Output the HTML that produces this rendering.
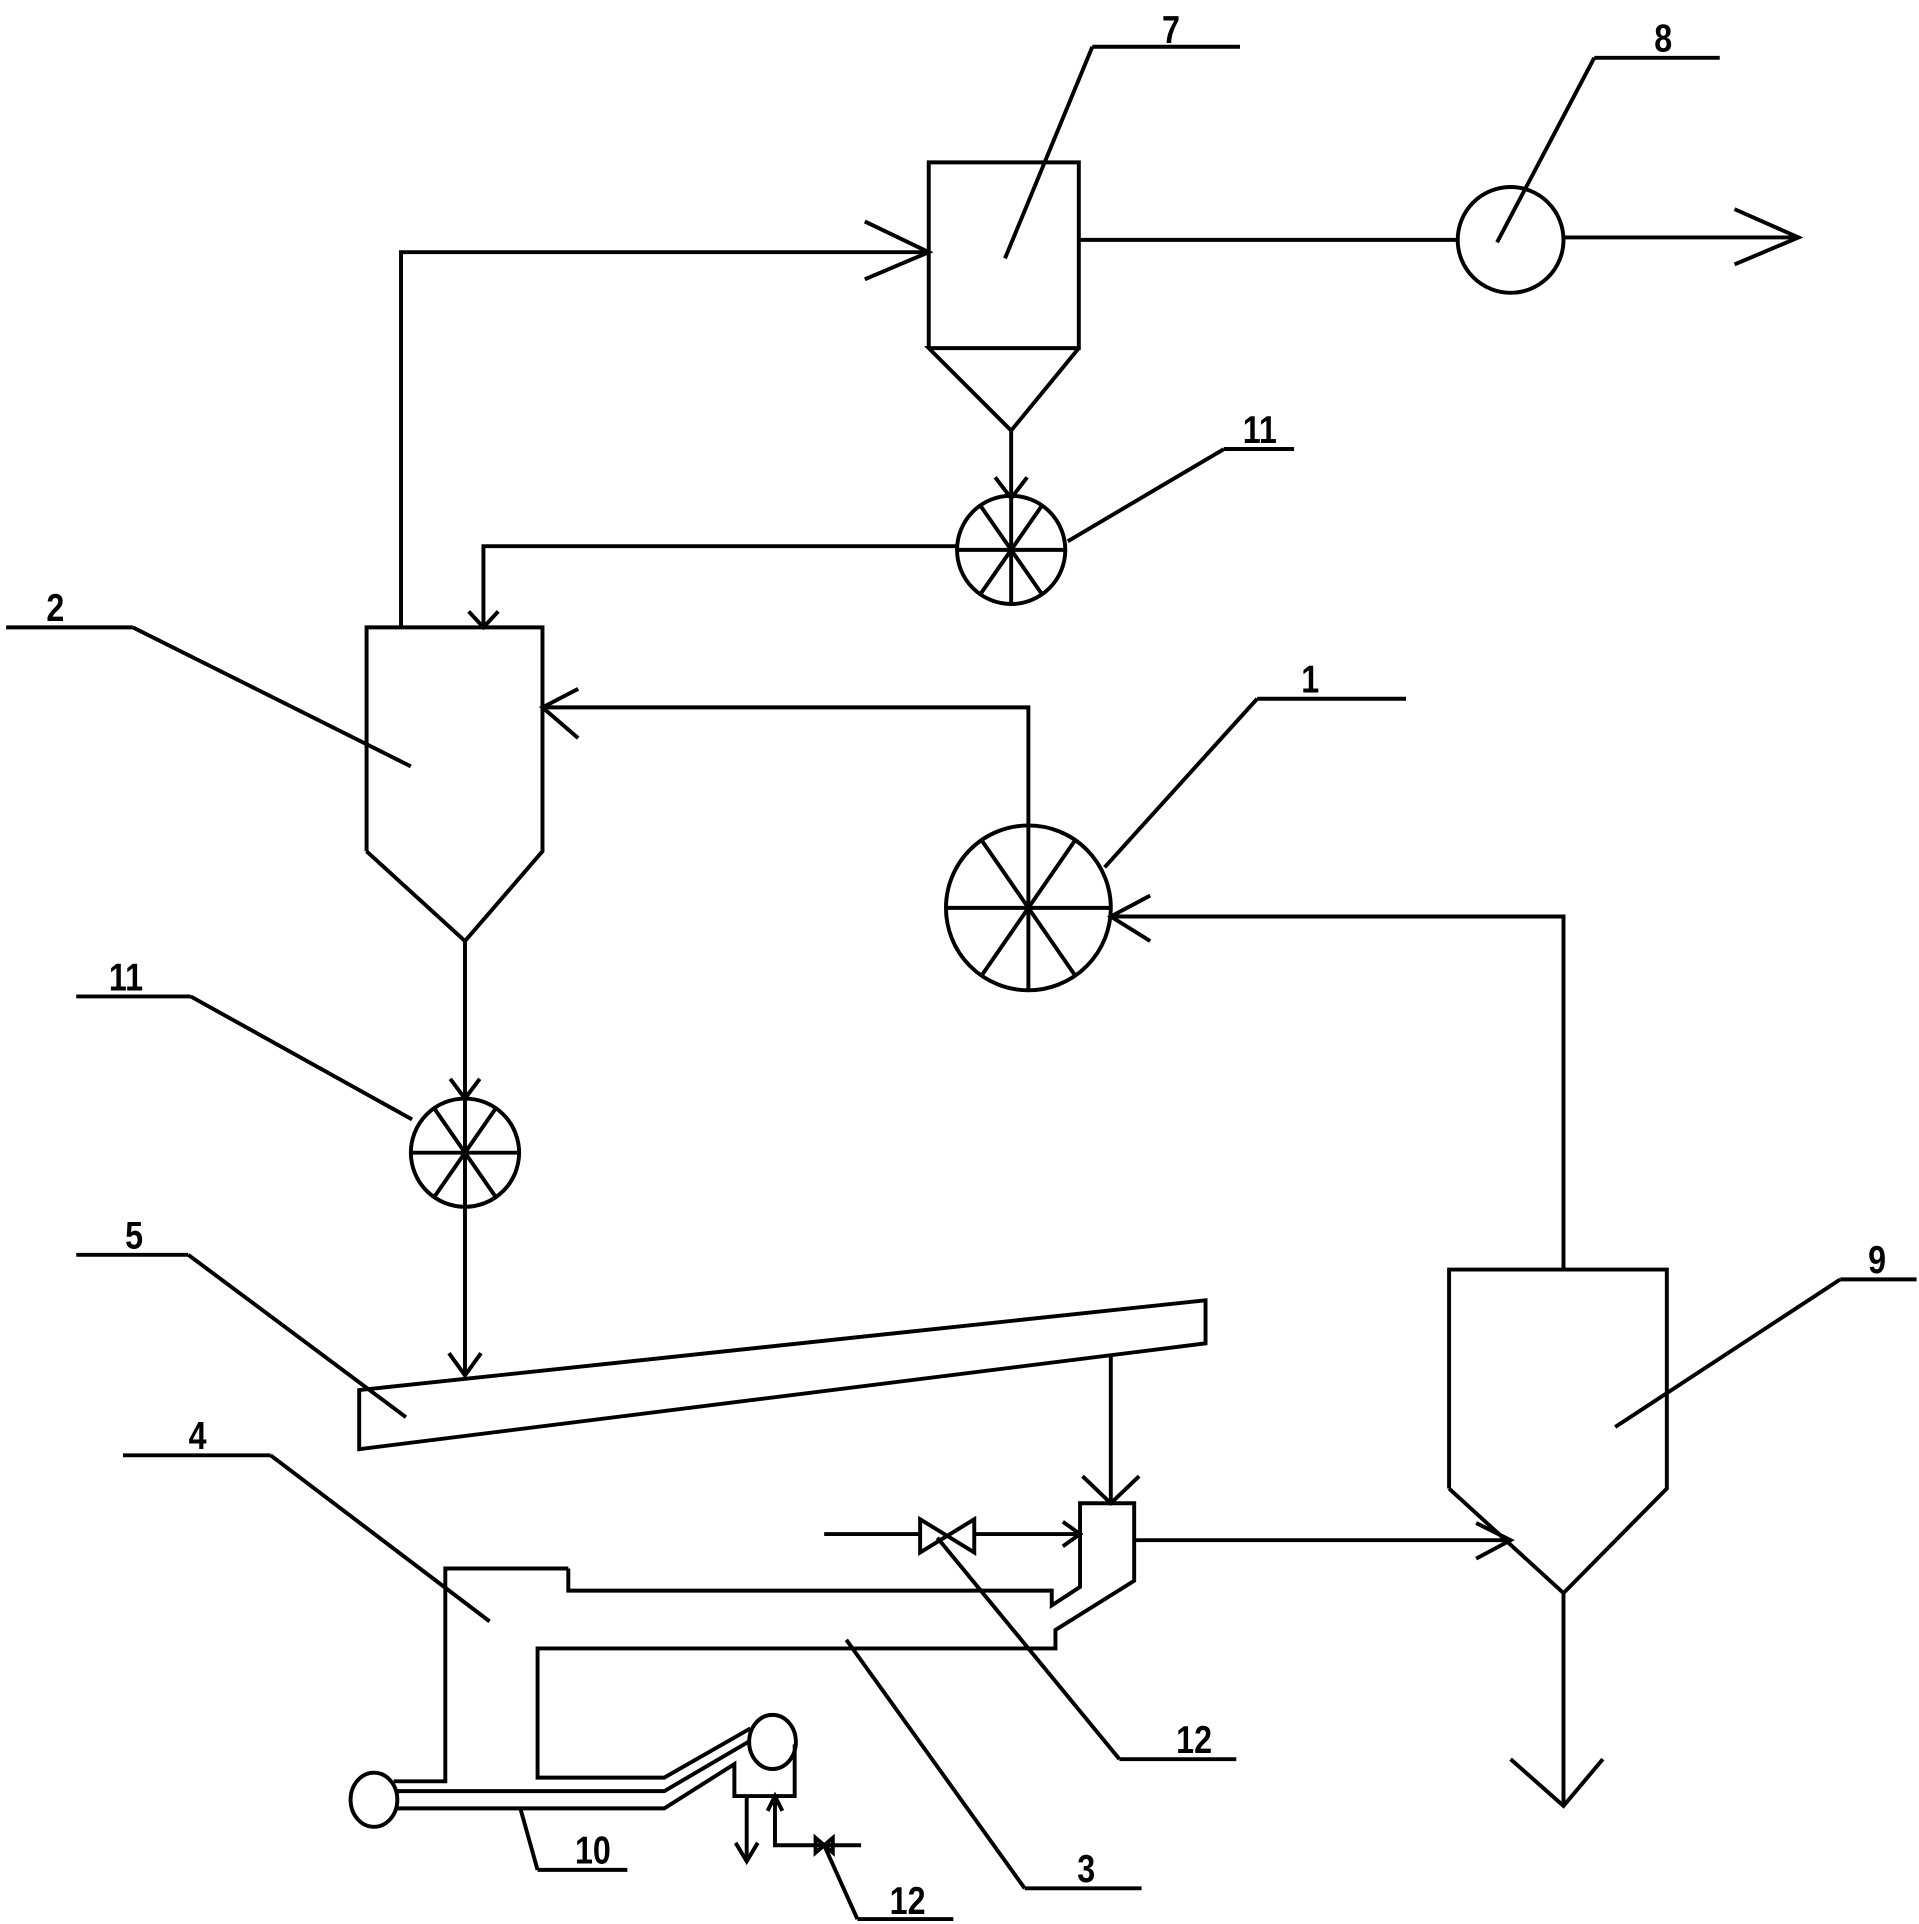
<!DOCTYPE html>
<html><head><meta charset="utf-8"><style>
html,body{margin:0;padding:0;background:#fff;}
svg{display:block;}
text{font-family:"Liberation Sans",sans-serif;font-size:32px;font-weight:bold;fill:#000;}
</style></head><body>
<svg width="1919" height="1924" viewBox="0 0 1560 1564" preserveAspectRatio="none" xmlns="http://www.w3.org/2000/svg">
<g fill="none" stroke="#000" stroke-width="3.2" stroke-linejoin="miter">
<polyline points="755,283 755,132 877,132 877,283 755,283 822,350 877,283"/>
<line x1="822" y1="350" x2="822" y2="405"/>
<polyline points="809,388 822,405 835,388"/>
<line x1="817" y1="210" x2="888" y2="38"/><line x1="888" y1="38" x2="1008" y2="38"/>
<line x1="877" y1="195" x2="1185" y2="195"/>
<circle cx="1228" cy="195" r="43"/>
<line x1="1271" y1="193" x2="1462" y2="193"/>
<polyline points="1410,170 1462,193 1410,215"/>
<line x1="1217" y1="197" x2="1296" y2="47"/><line x1="1296" y1="47" x2="1398" y2="47"/>
<polyline points="326,510 326,205 755,205"/>
<polyline points="703,180 755,205 703,227"/>
<circle cx="822" cy="447" r="44"/>
<line x1="822" y1="403" x2="822" y2="491"/><line x1="778" y1="447" x2="866" y2="447"/>
<line x1="797" y1="411" x2="847" y2="483"/><line x1="847" y1="411" x2="797" y2="483"/>
<line x1="868" y1="440" x2="995" y2="365"/><line x1="995" y1="365" x2="1052" y2="365"/>
<polyline points="778,444 393,444 393,510"/>
<polyline points="381,497 393,510 405,497"/>
<polyline points="298,692 298,510 441,510 441,692 378,765 298,692"/>
<line x1="334" y1="623" x2="108" y2="510"/><line x1="108" y1="510" x2="5" y2="510"/>
<polyline points="836,672 836,575 441,575"/>
<polyline points="470,560 441,575 470,600"/>
<circle cx="836" cy="738" r="67"/>
<line x1="836" y1="671" x2="836" y2="805"/><line x1="769" y1="738" x2="903" y2="738"/>
<line x1="798" y1="683" x2="874" y2="793"/><line x1="874" y1="683" x2="798" y2="793"/>
<line x1="898" y1="705" x2="1022" y2="568"/><line x1="1022" y1="568" x2="1143" y2="568"/>
<polyline points="1271,1032 1271,745 903,745"/>
<polyline points="935,728 903,745 935,765"/>
<line x1="378" y1="765" x2="378" y2="893"/>
<polyline points="366,877 378,893 390,877"/>
<circle cx="378" cy="937" r="44"/>
<line x1="378" y1="893" x2="378" y2="981"/><line x1="334" y1="937" x2="422" y2="937"/>
<line x1="353" y1="901" x2="403" y2="973"/><line x1="403" y1="901" x2="353" y2="973"/>
<line x1="335" y1="910" x2="155" y2="810"/><line x1="155" y1="810" x2="62" y2="810"/>
<line x1="378" y1="981" x2="378" y2="1118"/>
<polyline points="365,1100 378,1118 391,1100"/>
<polygon points="292,1130 980,1057 980,1092 292,1178"/>
<line x1="330" y1="1152" x2="153" y2="1020"/><line x1="153" y1="1020" x2="62" y2="1020"/>
<line x1="903" y1="1102" x2="903" y2="1222"/>
<polyline points="880,1200 903,1222 926,1200"/>
<polyline points="462,1275 362,1275 362,1448 320,1448"/>
<polyline points="462,1275 462,1293 855,1293 855,1305 878,1290 878,1222 922,1222 922,1285 858,1325 858,1340 437,1340 437,1445 540,1445 610,1405"/>
<line x1="670" y1="1247" x2="748" y2="1247"/>
<polygon points="748,1235 748,1262 792,1235 792,1262"/>
<line x1="792" y1="1247" x2="878" y2="1247"/>
<polyline points="864,1237 878,1247 864,1257"/>
<line x1="762" y1="1250" x2="910" y2="1430"/><line x1="910" y1="1430" x2="1005" y2="1430"/>
<line x1="922" y1="1252" x2="1228" y2="1252"/>
<polyline points="1200,1238 1228,1252 1200,1267"/>
<polyline points="1178,1210 1178,1032 1355,1032 1355,1210 1271,1295 1178,1210"/>
<line x1="1271" y1="1295" x2="1271" y2="1468"/>
<polyline points="1228,1430 1271,1468 1303,1430"/>
<line x1="1313" y1="1160" x2="1496" y2="1040"/><line x1="1496" y1="1040" x2="1558" y2="1040"/>
<ellipse cx="304" cy="1463" rx="19" ry="22"/>
<ellipse cx="628" cy="1416" rx="19" ry="22"/>
<polyline points="322,1456 540,1456 610,1415"/>
<polyline points="322,1470 540,1470 597,1434 597,1460 646,1460 646,1418"/>
<line x1="607" y1="1460" x2="607" y2="1513"/>
<polyline points="598,1498 607,1513 616,1498"/>
<polyline points="700,1500 630,1500 630,1460"/>
<polyline points="624,1472 630,1460 636,1472"/>
<polygon points="663,1494 663,1506 677,1494 677,1506"/>
<line x1="670" y1="1500" x2="697" y2="1560"/><line x1="697" y1="1560" x2="775" y2="1560"/>
<line x1="423" y1="1470" x2="437" y2="1520"/><line x1="437" y1="1520" x2="510" y2="1520"/>
<line x1="688" y1="1333" x2="833" y2="1535"/><line x1="833" y1="1535" x2="928" y2="1535"/>
<line x1="398" y1="1318" x2="220" y2="1183"/><line x1="220" y1="1183" x2="100" y2="1183"/>
</g>
<g transform="scale(0.82,1)">
<text x="1152" y="35">7</text>
<text x="1640" y="42">8</text>
<text x="1232" y="360">11</text>
<text x="46" y="505">2</text>
<text x="1290" y="563">1</text>
<text x="108" y="805">11</text>
<text x="124" y="1015">5</text>
<text x="187" y="1178">4</text>
<text x="1852" y="1035">9</text>
<text x="1166" y="1425">12</text>
<text x="1068" y="1530">3</text>
<text x="570" y="1515">10</text>
<text x="882" y="1556">12</text>
</g>
</svg>
</body></html>
